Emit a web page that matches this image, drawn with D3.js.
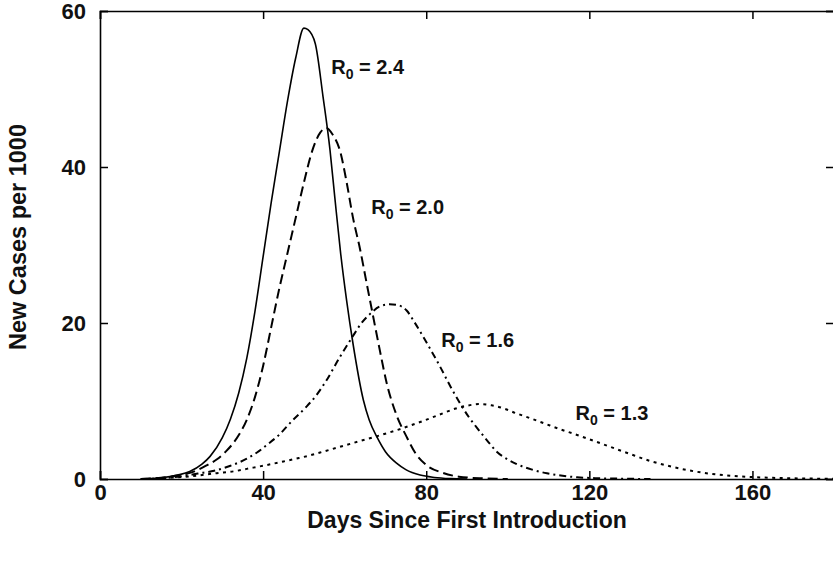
<!DOCTYPE html>
<html>
<head>
<meta charset="utf-8">
<script src="https://cdn.jsdelivr.net/npm/d3@7"></script>
<style>
  html, body { margin: 0; padding: 0; background: #fff; }
  svg { display: block; }
  text { font-family: "Liberation Sans", Arial, Helvetica, sans-serif; font-weight: bold; fill: #111; }
</style>
</head>
<body>
<svg id="chart" width="833" height="562"></svg>
<script>
// Epidemic curves: new cases per 1000 by day, for four reproduction numbers
const r24Curve = [[10,0],[15,0.15],[19,0.5],[22,0.95],[25,1.9],[27,2.9],[30,5.3],[32,7.7],[34,11],[36,15.5],[38,21.5],[40,28.5],[42,35.5],[44,42],[46,48.5],[48,54],[50,57.8],[51,57.6],[52.8,55.8],[54.7,49],[56.4,42.2],[57.6,36],[59,29],[60.5,22.8],[62,17.5],[64.6,10.1],[66,7.6],[68,5.3],[70,3.5],[72.8,2.0],[75,1.2],[78.5,0.5],[82,0.2],[86,0.05],[90,0]];
const r20Curve = [[10,0],[15,0.15],[19,0.45],[23,0.95],[26,1.7],[28.6,2.5],[31,3.6],[34,5.6],[36,7.6],[38,10.5],[40,14.5],[42,19.5],[44,24.5],[46,29],[48,33.5],[50,38],[52,42],[54,44.4],[55.5,45],[57,44.2],[58.9,42],[60.5,38],[62,33.6],[63.8,29.4],[65.5,24.8],[67,20.8],[68.7,16.3],[70.3,12.3],[72.5,8.5],[75.2,5.4],[77.5,3.2],[80,1.8],[84,0.8],[88,0.3],[94,0.08],[100,0]];
const r16Curve = [[10,0],[15,0.1],[20,0.35],[24,0.7],[28,1.05],[32,1.7],[36,2.6],[38.5,3.4],[41,4.4],[44,5.7],[47,7.4],[50.5,9.2],[53,10.7],[55.6,12.7],[58.9,15.7],[62,18.3],[64,19.9],[66.3,21.2],[68.5,22.1],[71,22.4],[73,22.3],[75.2,21.6],[77,20.2],[79.3,18.2],[81.5,16.2],[83.4,14.4],[86,11.8],[88.3,9.7],[90.5,7.9],[92.4,6.6],[95,4.9],[97.3,3.5],[100,2.5],[102.2,1.9],[106,1.2],[109.6,0.73],[113,0.45],[117,0.22],[122,0.1],[128,0.04],[135,0]];
const r13Curve = [[10,0],[15,0.1],[20,0.25],[24,0.45],[28.6,0.75],[33,1.0],[36,1.3],[41,1.8],[45,2.25],[48,2.6],[52,3.1],[54,3.4],[57,3.85],[60,4.3],[64,4.9],[68,5.5],[73,6.3],[78.5,7.3],[83,8.2],[87,9.0],[90,9.4],[93,9.6],[96,9.45],[99,9.05],[102.2,8.4],[106,7.7],[109.6,7.0],[113,6.35],[117,5.65],[120,5.1],[125,4.15],[130,3.2],[135,2.3],[140,1.6],[145,1.05],[150,0.65],[155,0.4],[160,0.25],[165,0.15],[170,0.09],[175,0.05],[180,0.03]];

const r0Values = ["2.4", "2.0", "1.6", "1.3"];
// label anchor for each curve, in (day, cases) units
const labelAnchors = [[56.7, 51.9], [66.5, 34.0], [83.7, 16.9], [116.6, 7.6]];

const xTicks = [0, 40, 80, 120, 160];
const yTicks = [0, 20, 40, 60];
const xTitle = "Days Since First Introduction";
const yTitle = "New Cases per 1000";

const svg = d3.select("#chart");
const plotLeft = 100, plotRight = 834, plotTop = 11, plotBottom = 479;

const x = d3.scaleLinear().domain([0, 180]).range([plotLeft, plotRight]);
const y = d3.scaleLinear().domain([0, 60]).range([plotBottom, plotTop]);

const series = [
  { pts: r24Curve, dash: null, width: 1.6 },
  { pts: r20Curve, dash: "10,5", width: 2 },
  { pts: r16Curve, dash: "7,4,2,4", width: 2 },
  { pts: r13Curve, dash: "3,4.5", width: 2 }
];

const line = d3.line()
  .x(d => x(d[0]))
  .y(d => y(d[1]))
  .curve(d3.curveMonotoneX);

svg.append("g").selectAll("path")
  .data(series)
  .join("path")
  .attr("d", d => line(d.pts))
  .attr("fill", "none")
  .attr("stroke", "#000")
  .attr("stroke-width", d => d.width)
  .attr("stroke-dasharray", d => d.dash)
  .attr("stroke-linejoin", "round");

// frame with inward ticks on all four sides
const tickLen = 8;
const axisBottom = d3.axisBottom(x).tickValues(xTicks).tickSize(-tickLen).tickPadding(5).tickFormat(d3.format("d"));
const axisTop = d3.axisTop(x).tickValues(xTicks).tickSize(-tickLen).tickFormat("");
const axisLeft = d3.axisLeft(y).tickValues(yTicks).tickSize(-tickLen).tickPadding(14).tickFormat(d3.format("d"));
const axisRight = d3.axisRight(y).tickValues(yTicks).tickSize(-tickLen).tickFormat("");

function styleAxis(g) {
  g.select(".domain").attr("stroke", "#000").attr("stroke-width", 1.6);
  g.selectAll(".tick line").attr("stroke", "#000").attr("stroke-width", 1.5);
  g.selectAll(".tick text").attr("fill", "#111").style("font-size", "22px").style("font-weight", "bold")
    .style("font-family", '"Liberation Sans", Arial, sans-serif');
}

svg.append("g").attr("transform", `translate(0,${plotBottom})`).call(axisBottom).call(styleAxis);
svg.append("g").attr("transform", `translate(0,${plotTop})`).call(axisTop).call(styleAxis);
svg.append("g").attr("transform", `translate(${plotLeft},0)`).call(axisLeft).call(styleAxis);
svg.append("g").attr("transform", `translate(${plotRight},0)`).call(axisRight).call(styleAxis);

// axis titles
svg.append("text")
  .attr("x", (plotLeft + plotRight) / 2)
  .attr("y", 528)
  .attr("text-anchor", "middle")
  .style("font-size", "23px")
  .text(xTitle);

svg.append("text")
  .attr("transform", `translate(26,${(plotTop + plotBottom) / 2 - 8}) rotate(-90)`)
  .attr("text-anchor", "middle")
  .style("font-size", "23.5px")
  .text(yTitle);

// R0 labels next to each curve
const labels = svg.append("g").selectAll("text")
  .data(r0Values)
  .join("text")
  .attr("x", (d, i) => x(labelAnchors[i][0]))
  .attr("y", (d, i) => y(labelAnchors[i][1]))
  .style("font-size", "20px");
labels.append("tspan").text("R");
labels.append("tspan").attr("dy", 5).style("font-size", "14px").text("0");
labels.append("tspan").attr("dy", -5).text(d => " = " + d);
</script>
</body>
</html>
